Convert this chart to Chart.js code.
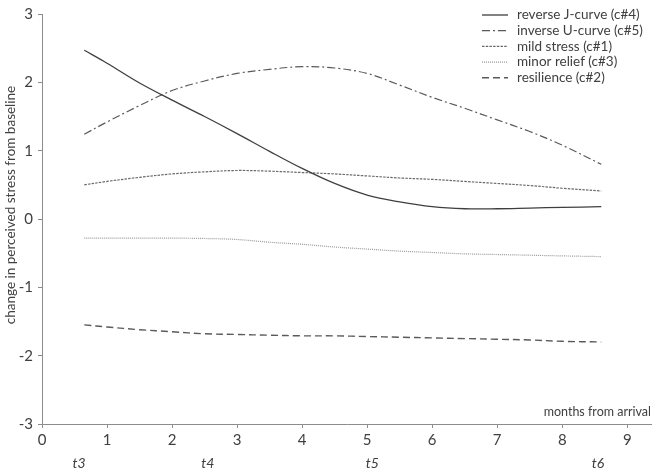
<!DOCTYPE html>
<html>
<head>
<meta charset="utf-8">
<script src="https://cdn.jsdelivr.net/npm/chart.js@4.4.1/dist/chart.umd.min.js"></script>
<style>
  html, body { margin: 0; padding: 0; background: #fff; }
  #wrap { width: 652px; height: 471px; position: relative; }
</style>
</head>
<body>
<div id="wrap"><canvas id="chart"></canvas></div>
<script>
// months from arrival (x positions of the fitted curves)
const months = [0.65, 1, 1.5, 2, 2.5, 3, 3.5, 4, 4.5, 5, 5.5, 6, 6.5, 7, 7.5, 8, 8.6];

// change in perceived stress per class
const reverseJ = [2.47, 2.28, 1.99, 1.74, 1.50, 1.25, 0.99, 0.74, 0.52, 0.35, 0.25, 0.18, 0.15, 0.15, 0.16, 0.17, 0.18];
const inverseU = [1.24, 1.42, 1.66, 1.88, 2.02, 2.13, 2.19, 2.23, 2.21, 2.13, 1.96, 1.78, 1.62, 1.45, 1.28, 1.08, 0.80];
const mildStress = [0.50, 0.55, 0.61, 0.66, 0.69, 0.71, 0.70, 0.68, 0.66, 0.63, 0.60, 0.58, 0.55, 0.52, 0.49, 0.45, 0.41];
const minorRelief = [-0.28, -0.28, -0.28, -0.28, -0.285, -0.30, -0.34, -0.37, -0.41, -0.44, -0.47, -0.49, -0.51, -0.52, -0.53, -0.54, -0.55];
const resilience = [-1.55, -1.58, -1.62, -1.65, -1.68, -1.69, -1.70, -1.71, -1.71, -1.72, -1.73, -1.74, -1.75, -1.76, -1.77, -1.79, -1.80];

const seriesNames = ['reverse J-curve (c#4)', 'inverse U-curve (c#5)', 'mild stress (c#1)', 'minor relief (c#3)', 'resilience (c#2)'];

// measurement waves shown under the axis
const waveLabels = ['t3', 't4', 't5', 't6'];
const wavePos = [0.57, 2.55, 5.08, 8.55];

const xTicks = [0, 1, 2, 3, 4, 5, 6, 7, 8, 9];
const yTicks = [-3, -2, -1, 0, 1, 2, 3];

const FONT = 'Lato, "Open Sans", sans-serif';
const TEXT = '#404040';
const AXIS = '#8c8c8c';

function pts(vals) {
  return vals.map((v, i) => ({ x: months[i], y: v }));
}

const styles = [
  { color: '#3f3f3f', dash: [], width: 1.3 },
  { color: '#5a5a5a', dash: [8, 3, 2, 3], width: 1.2 },
  { color: '#6a6a6a', dash: [2.5, 1.2], width: 1.2 },
  { color: '#9a9a9a', dash: [1, 1], width: 1.2 },
  { color: '#5a5a5a', dash: [7, 4], width: 1.4 }
];

const allSeries = [reverseJ, inverseU, mildStress, minorRelief, resilience];

const datasets = allSeries.map((vals, i) => ({
  label: seriesNames[i],
  data: pts(vals),
  borderColor: styles[i].color,
  borderDash: styles[i].dash,
  borderWidth: styles[i].width,
  pointRadius: 0,
  fill: false,
  tension: 0.35
}));

const extras = {
  id: 'extras',
  afterDraw(chart) {
    const ctx = chart.ctx;
    const xs = chart.scales.x;
    ctx.save();
    ctx.fillStyle = TEXT;

    // wave labels
    ctx.font = 'italic 14px ' + FONT;
    ctx.textAlign = 'center';
    ctx.textBaseline = 'middle';
    waveLabels.forEach((t, i) => {
      ctx.fillText(t, xs.getPixelForValue(wavePos[i]), 463);
    });

    // x axis caption
    ctx.font = '12.5px ' + FONT;
    ctx.textAlign = 'right';
    ctx.fillText('months from arrival', 651, 412);

    // y axis caption
    ctx.save();
    ctx.translate(11, 205);
    ctx.rotate(-Math.PI / 2);
    ctx.textAlign = 'center';
    ctx.font = '13.5px ' + FONT;
    ctx.fillText('change in perceived stress from baseline', 0, 0);
    ctx.restore();

    // legend
    ctx.font = '13.5px ' + FONT;
    ctx.textAlign = 'left';
    chart.data.datasets.forEach((ds, i) => {
      const y = 15 + i * 15.7;
      ctx.beginPath();
      ctx.strokeStyle = ds.borderColor;
      ctx.lineWidth = ds.borderWidth;
      ctx.setLineDash(ds.borderDash);
      ctx.moveTo(482, y);
      ctx.lineTo(508, y);
      ctx.stroke();
      ctx.setLineDash([]);
      ctx.fillText(ds.label, 517, y);
    });
    ctx.restore();
  }
};

new Chart(document.getElementById('chart'), {
  type: 'line',
  data: { datasets },
  options: {
    responsive: true,
    maintainAspectRatio: false,
    animation: false,
    layout: { padding: { top: 9, right: 0, left: 0, bottom: 0 } },
    plugins: { legend: { display: false }, tooltip: { enabled: false } },
    scales: {
      x: {
        type: 'linear',
        min: 0,
        max: 9.38,
        afterBuildTicks: (s) => { s.ticks = xTicks.map(v => ({ value: v })); },
        afterFit: (s) => { s.height = 47; },
        border: { color: AXIS, width: 1 },
        grid: { drawOnChartArea: false, drawTicks: true, tickLength: 4, color: AXIS },
        ticks: { color: TEXT, font: { family: FONT, size: 15 }, padding: 3, maxRotation: 0 }
      },
      y: {
        type: 'linear',
        min: -3,
        max: 3,
        afterBuildTicks: (s) => { s.ticks = yTicks.map(v => ({ value: v })); },
        afterFit: (s) => { s.width = 42; },
        border: { color: AXIS, width: 1 },
        grid: { drawOnChartArea: false, drawTicks: true, tickLength: 4, color: AXIS },
        ticks: { color: TEXT, font: { family: FONT, size: 15 }, padding: 5 }
      }
    }
  },
  plugins: [extras]
});
</script>
</body>
</html>
